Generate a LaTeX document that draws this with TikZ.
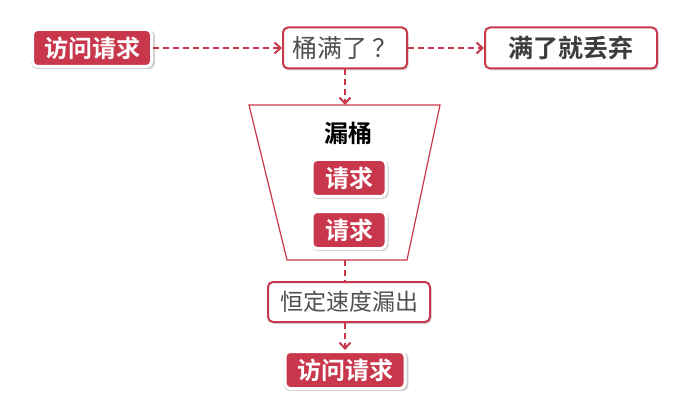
\documentclass[tikz,border=0pt]{standalone}
\usepackage{fontspec}
\setmainfont{Noto Sans CJK SC}[BoldFont={Noto Sans CJK SC Bold}]
\usetikzlibrary{arrows.meta,shadows}
\definecolor{rd}{RGB}{200,55,75}
\definecolor{txtgray}{RGB}{80,80,80}
\definecolor{darkgray}{RGB}{60,60,60}
\tikzset{
  redbox/.style={rounded corners=5pt, fill=rd, draw=white, line width=3pt,
    text=white, font=\fontsize{24}{26}\selectfont\bfseries, inner sep=0pt,
    drop shadow={shadow xshift=1pt, shadow yshift=-1.5pt, shadow scale=1.04, opacity=0.35, fill=black!55}},
  whitebox/.style={rounded corners=5pt, fill=white, draw=rd, line width=2pt,
    inner sep=0pt,
    drop shadow={shadow xshift=1.5pt, shadow yshift=-2pt, opacity=0.25, fill=black!60}},
  conn/.style={draw=rd, line width=2pt, dash pattern=on 6pt off 4pt},
  arr/.style={conn, -{Straight Barb[length=6pt,width=11pt,line width=2pt]}},
}
\begin{document}
\begin{tikzpicture}[x=1pt,y=-1pt]
\useasboundingbox (0,0) rectangle (693,414);
\node[redbox, minimum width=119pt, minimum height=37pt] (a) at (92,48) {访问请求};
\node[whitebox, minimum width=124pt, minimum height=41pt, text=txtgray,
  font=\fontsize{25}{27}\selectfont] (b) at (345,48) {桶满了\,？};
\node[whitebox, minimum width=172pt, minimum height=41pt, text=darkgray,
  font=\fontsize{25}{27}\selectfont\bfseries] (c) at (571,48) {满了就丢弃};
% trapezoid
\coordinate (tl) at (249,105);
\coordinate (tr) at (440,105);
\coordinate (br) at (407,260);
\coordinate (bl) at (287,260);
\coordinate (tt) at (345,105);
\coordinate (tbot) at (345,260);
\draw[rd, line width=1.2pt] (tl) -- (tr) -- (br) -- (bl) -- cycle;
\node[font=\fontsize{24}{26}\selectfont\bfseries] (lt) at (348,133) {漏桶};
\node[redbox, minimum width=74pt, minimum height=37pt] (r1) at (349,178) {请求};
\node[redbox, minimum width=74pt, minimum height=37pt] (r2) at (349,230) {请求};
\node[whitebox, minimum width=162pt, minimum height=40pt, text=txtgray,
  font=\fontsize{23}{25}\selectfont] (d) at (349,302) {恒定速度漏出};
\node[redbox, minimum width=120pt, minimum height=37pt] (e) at (345,370) {访问请求};
% connectors
\draw[arr] (a.east) -- (b.west);
\draw[arr] (b.east) -- (c.west);
\draw[arr] (b.south) -- (tt);
\draw[conn] (tbot) -- (tbot |- d.north);
\draw[arr] (tbot |- d.south) -- (e.north);
\end{tikzpicture}
\end{document}
